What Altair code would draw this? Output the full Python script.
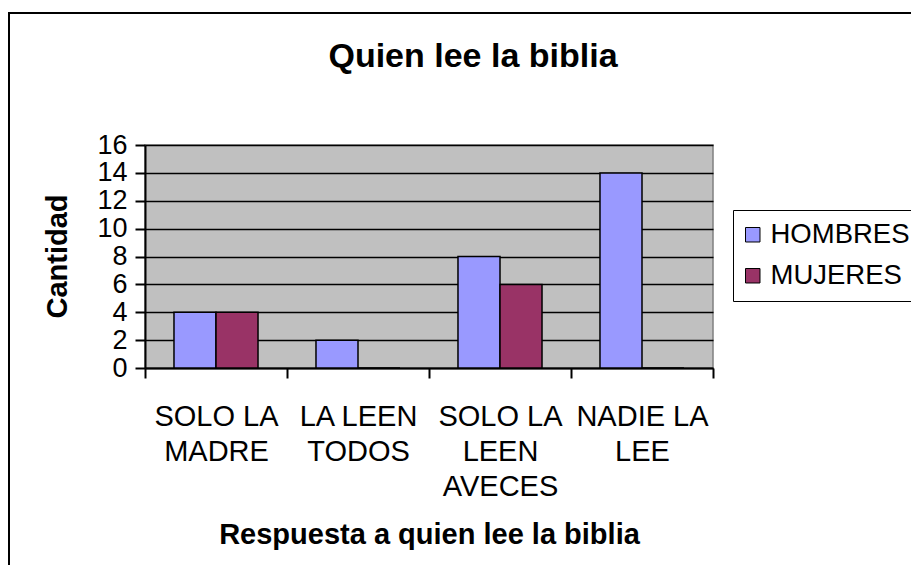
import altair as alt
import pandas as pd

# ---- data ----
categories = ["SOLO LA\nMADRE", "LA LEEN\nTODOS", "SOLO LA\nLEEN\nAVECES", "NADIE LA\nLEE"]
series = ["HOMBRES", "MUJERES"]
hombres = [4, 2, 8, 14]
mujeres = [4, 0, 6, 0]
colors = ["#9999FF", "#993366"]
y_ticks = [0, 2, 4, 6, 8, 10, 12, 14, 16]
title_text = "Quien lee la biblia"
x_title = "Respuesta a quien lee la biblia"
y_title = "Cantidad"

rows = []
for c, h, m in zip(categories, hombres, mujeres):
    rows.append({"cat": c, "serie": series[0], "valor": h})
    rows.append({"cat": c, "serie": series[1], "valor": m})
df = pd.DataFrame(rows)

FONT = "Liberation Sans, Arial, sans-serif"
W, H = 568, 223
PAD_L, PAD_T = 137, 137
SVG_W, SVG_H = 903, 557
PAD_R = SVG_W - PAD_L - W
PAD_B = SVG_H - PAD_T - H

bars = alt.Chart(df).mark_bar(stroke="black", strokeWidth=1.5).encode(
    x=alt.X(
        "cat:N",
        sort=categories,
        scale=alt.Scale(paddingInner=0, paddingOuter=0),
        axis=alt.Axis(
            title=x_title,
            labelExpr="split(datum.label, '\\n')",
            labelAngle=0,
            labelAlign="center",
            labelPadding=24,
            labelLineHeight=35,
            labelOverlap=False,
            tickBand="extent",
            grid=False,
            titleX=W / 2,
            titleY=166,
            titleAlign="center",
            titleBaseline="middle",
        ),
    ),
    xOffset=alt.XOffset(
        "serie:N", sort=series, scale=alt.Scale(paddingInner=0, paddingOuter=0.69)
    ),
    y=alt.Y(
        "valor:Q",
        scale=alt.Scale(domain=[0, 16], nice=False),
        axis=alt.Axis(
            title=y_title,
            values=y_ticks,
            labelOverlap=False,
            labelFontSize=27,
            grid=True,
            gridColor="black",
            gridWidth=1.5,
            gridOpacity=1,
            labelPadding=8,
            titleX=-88,
            titleY=111,
            titleAngle=270,
            titleAlign="center",
            titleBaseline="middle",
        ),
    ),
    color=alt.Color(
        "serie:N",
        scale=alt.Scale(domain=series, range=colors),
        title=None,
        legend=alt.Legend(
            orient="none",
            legendX=588,
            legendY=65,
            symbolType="square",
            symbolSize=210,
            symbolStrokeColor="black",
            symbolStrokeWidth=1,
            symbolOffset=-5,
            labelFont=FONT,
            labelFontSize=27.5,
            labelColor="black",
            labelOffset=4,
            padding=11,
            rowPadding=12,
            strokeColor="black",
        ),
    ),
)

title_layer = alt.Chart(pd.DataFrame({"t": [title_text]})).mark_text(
    font=FONT, fontSize=34, fontWeight="bold", color="black",
    align="center", baseline="middle",
).encode(x=alt.value(328), y=alt.value(-88), text="t:N")

frame_df = pd.DataFrame({"k": [0]})
frame_top = alt.Chart(frame_df).mark_rule(color="black", strokeWidth=2).encode(
    x=alt.value(-PAD_L), x2=alt.value(W + PAD_R), y=alt.value(-132)
)
frame_left = alt.Chart(frame_df).mark_rule(color="black", strokeWidth=2).encode(
    x=alt.value(-136), y=alt.value(-132), y2=alt.value(H + PAD_B)
)

chart = alt.layer(bars, title_layer, frame_top, frame_left).properties(
    width=W,
    height=H,
    autosize=alt.AutoSizeParams(type="none"),
    padding={"left": PAD_L, "top": PAD_T, "right": PAD_R, "bottom": PAD_B},
    background="white",
).configure_view(
    fill="#C0C0C0", stroke="#808080", strokeWidth=1.5
).configure_axis(
    domainColor="black",
    domainWidth=2,
    tickColor="black",
    tickWidth=2,
    tickSize=10,
    labelFont=FONT,
    labelFontSize=29,
    labelColor="black",
    titleFont=FONT,
    titleFontSize=29,
    titleFontWeight="bold",
    titleColor="black",
)

chart.save("out.html", embed_options={"renderer": "svg", "actions": False})
